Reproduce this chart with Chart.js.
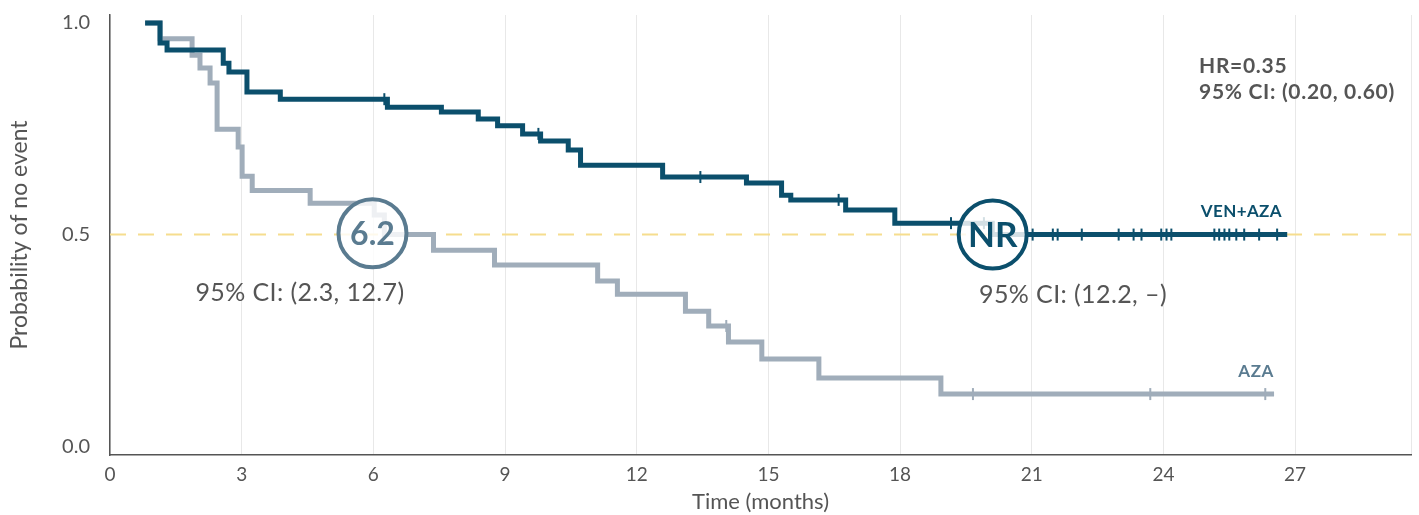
<!DOCTYPE html>
<html>
<head>
<meta charset="utf-8">
<script src="https://cdn.jsdelivr.net/npm/chart.js@4.4.0/dist/chart.umd.min.js"></script>
<style>
  html, body { margin: 0; padding: 0; background: #fff; }
  #km { display: block; }
</style>
</head>
<body>
<canvas id="km" width="1419" height="515"></canvas>
<script>
"use strict";

// Kaplan-Meier steps (months, probability after the drop)
var venTimes = [0.8, 1.14, 1.30, 2.58, 2.71, 3.12, 3.88, 6.32, 7.55, 8.39, 8.83, 9.40, 9.81,
    10.44, 10.72, 12.59, 14.50, 15.30, 15.51, 16.76, 17.88, 20.1, 26.82];
var venSurv = [1.0, 0.953, 0.936, 0.905, 0.884, 0.837, 0.820, 0.801, 0.790, 0.773, 0.757, 0.738, 0.721,
    0.700, 0.664, 0.636, 0.622, 0.593, 0.582, 0.558, 0.527, 0.500, 0.500];
var venCensor = [6.25, 9.76, 13.45, 16.6, 19.16, 19.91, 21.02, 21.48, 21.59, 22.14, 22.98, 23.32,
    23.50, 23.95, 24.07, 24.18, 25.16, 25.27, 25.39, 25.50, 25.66, 25.84, 26.18, 26.59];

var azaTimes = [0.8, 1.14, 1.87, 2.05, 2.28, 2.44, 2.92, 3.01, 3.24, 4.56, 6.02, 6.25, 7.37,
    8.76, 11.11, 11.56, 13.11, 13.64, 14.09, 14.85, 16.15, 18.93, 26.52];
var azaSurv = [1.0, 0.963, 0.924, 0.894, 0.858, 0.749, 0.707, 0.638, 0.604, 0.574, 0.546, 0.500, 0.463,
    0.428, 0.390, 0.359, 0.319, 0.284, 0.246, 0.206, 0.161, 0.123, 0.123];
var azaCensor = [14.04, 19.66, 23.70, 26.32];

var yTickValues = [0, 0.5, 1.0];
var medianLevel = 0.5;
var xMax = 29.64;

var venColor = '#0b4f6c';
var azaColor = '#a0adba';
var azaLabelColor = '#5a7b90';
var textColor = '#555555';
var FONT = 'Lato, "Open Sans", sans-serif';

function toPoints(times, surv) {
    return times.map(function (t, i) { return {x: t, y: surv[i]}; });
}

// value of the step curve at time t (used to sit censor ticks on the line)
function stepValue(times, surv, t) {
    var v = surv[0];
    for (var i = 0; i < times.length; i++) {
        if (times[i] <= t) { v = surv[i]; }
    }
    return v;
}

function censorPoints(censor, times, surv) {
    return censor.map(function (t) { return {x: t, y: stepValue(times, surv, t)}; });
}

var annotations = {
    id: 'annotations',
    afterDatasetsDraw: function (chart) {
        var ctx = chart.ctx;
        var xs = chart.scales.x;
        var ys = chart.scales.y;

        function badge(tx, ty, label, color, size) {
            var cx = xs.getPixelForValue(tx);
            var cy = ys.getPixelForValue(ty);
            ctx.save();
            ctx.beginPath();
            ctx.arc(cx, cy, 34, 0, Math.PI * 2);
            ctx.fillStyle = 'rgba(255,255,255,0.82)';
            ctx.fill();
            ctx.lineWidth = 4;
            ctx.strokeStyle = color;
            ctx.stroke();
            ctx.fillStyle = color;
            ctx.font = 'bold ' + size + 'px ' + FONT;
            ctx.textAlign = 'center';
            ctx.textBaseline = 'middle';
            ctx.fillText(label, cx, cy + 1);
            ctx.restore();
        }

        function text(str, x, y, font, color, align, spacing) {
            ctx.save();
            ctx.font = font;
            ctx.fillStyle = color;
            ctx.textAlign = align;
            ctx.textBaseline = 'middle';
            if (spacing) { ctx.letterSpacing = spacing; }
            ctx.fillText(str, x, y);
            ctx.restore();
        }

        badge(5.98, 0.503, '6.2', azaLabelColor, 32);
        badge(20.11, 0.50, 'NR', venColor, 35);

        text('95% CI: (2.3, 12.7)', 300, 293, '25px ' + FONT, textColor, 'center', '0.4px');
        text('95% CI: (12.2, \u2013)', 1073, 295, '25px ' + FONT, textColor, 'center', '0.4px');

        text('VEN+AZA', 1282, 212, 'bold 17px ' + FONT, venColor, 'right', '0.4px');
        text('AZA', 1274, 372, 'bold 17px ' + FONT, azaLabelColor, 'right', '0.6px');

        text('HR=0.35', 1199, 66, 'bold 21px ' + FONT, textColor, 'left', '0.7px');
        text('95% CI: (0.20, 0.60)', 1199, 92, 'bold 21px ' + FONT, textColor, 'left', '0.7px');
    }
};

new Chart(document.getElementById('km'), {
    type: 'line',
    data: {
        datasets: [{
            label: 'median',
            data: [{x: 0, y: medianLevel}, {x: xMax, y: medianLevel}],
            borderColor: '#f6dd8e',
            borderWidth: 2,
            borderDash: [16, 12],
            pointRadius: 0,
            order: 5
        }, {
            label: 'AZA',
            data: toPoints(azaTimes, azaSurv),
            stepped: 'before',
            borderColor: azaColor,
            borderWidth: 5,
            borderJoinStyle: 'miter',
            borderCapStyle: 'butt',
            pointRadius: 0,
            order: 2
        }, {
            label: 'AZA censored',
            data: censorPoints(azaCensor, azaTimes, azaSurv),
            showLine: false,
            pointStyle: 'line',
            rotation: 90,
            pointRadius: 6,
            pointBorderWidth: 2,
            borderColor: azaColor,
            order: 1
        }, {
            label: 'VEN+AZA',
            data: toPoints(venTimes, venSurv),
            stepped: 'before',
            borderColor: venColor,
            borderWidth: 5,
            borderJoinStyle: 'miter',
            borderCapStyle: 'butt',
            pointRadius: 0,
            order: 0
        }, {
            label: 'VEN+AZA censored',
            data: censorPoints(venCensor, venTimes, venSurv),
            showLine: false,
            pointStyle: 'line',
            rotation: 90,
            pointRadius: 6,
            pointBorderWidth: 2,
            borderColor: venColor,
            order: -1
        }]
    },
    options: {
        responsive: false,
        devicePixelRatio: 1,
        animation: false,
        layout: {padding: {top: 15, right: 0, left: 0, bottom: 0}},
        plugins: {legend: {display: false}, tooltip: {enabled: false}},
        scales: {
            x: {
                type: 'linear',
                min: 0,
                max: xMax,
                afterFit: function (scale) {
                    scale.height = 60;
                    scale.paddingLeft = 0;
                    scale.paddingRight = 0;
                },
                ticks: {
                    stepSize: 3,
                    padding: 8,
                    color: textColor,
                    font: {family: FONT, size: 19},
                    callback: function (v) { return v <= 27 ? v : ''; }
                },
                grid: {color: '#e8e8e8', lineWidth: 1, drawTicks: false},
                border: {color: '#555555', width: 1.5},
                title: {
                    display: true,
                    text: 'Time (months)',
                    color: textColor,
                    font: {family: FONT, size: 22},
                    padding: {top: 0, bottom: 0}
                }
            },
            y: {
                min: -0.021,
                max: 1.019,
                afterFit: function (scale) {
                    scale.width = 110;
                    scale.paddingTop = 0;
                    scale.paddingBottom = 0;
                },
                afterBuildTicks: function (scale) {
                    scale.ticks = yTickValues.map(function (v) { return {value: v}; });
                },
                ticks: {
                    padding: 20,
                    color: textColor,
                    font: {family: FONT, size: 20},
                    callback: function (v) { return v.toFixed(1); }
                },
                grid: {display: false, drawTicks: false},
                border: {color: '#555555', width: 1.5},
                title: {
                    display: true,
                    text: 'Probability of no event',
                    color: textColor,
                    font: {family: FONT, size: 23},
                    padding: {top: 6, bottom: 0}
                }
            }
        }
    },
    plugins: [annotations]
});
</script>
</body>
</html>
